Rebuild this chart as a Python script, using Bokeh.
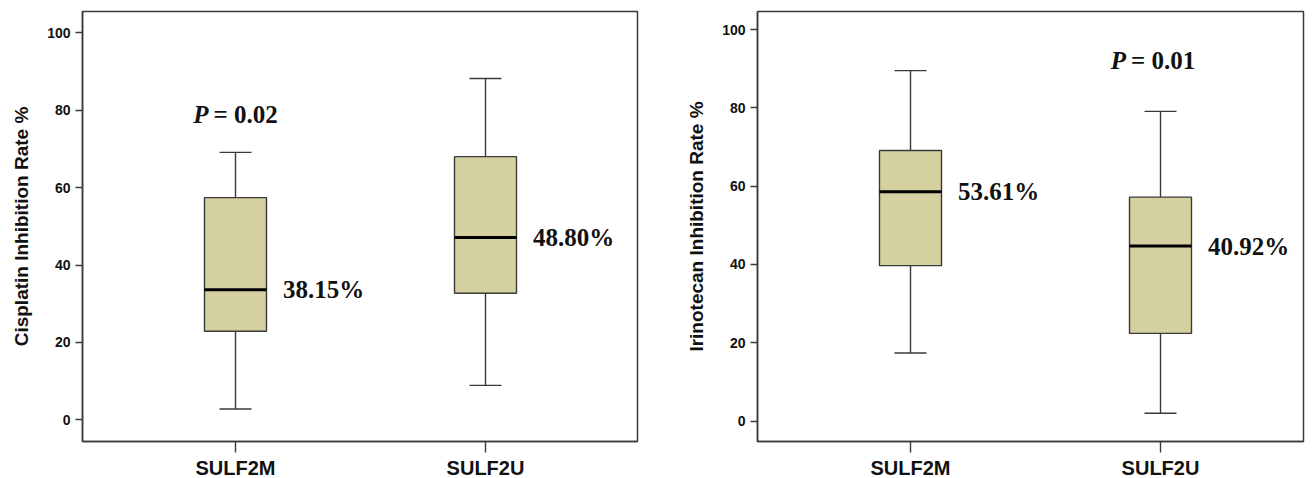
from bokeh.plotting import figure
from bokeh.layouts import row
from bokeh.models import Range1d, FixedTicker
from bokeh.core.properties import value
from bokeh.embed import file_html
from bokeh.resources import INLINE

# ---------------- data ----------------
groups = ["SULF2M", "SULF2U"]
group_pos = [1, 2]
y_ticks = [0, 20, 40, 60, 80, 100]

cis_low = [2.8, 8.9]
cis_q1 = [22.9, 32.7]
cis_median = [33.6, 47.1]
cis_q3 = [57.4, 68.0]
cis_high = [69.1, 88.2]
cis_labels = ["38.15%", "48.80%"]
cis_p_value = "0.02"
cis_p_at = (1.0, 79.0)

iri_low = [17.4, 2.0]
iri_q1 = [39.7, 22.4]
iri_median = [58.6, 44.7]
iri_q3 = [69.1, 57.2]
iri_high = [89.5, 79.1]
iri_labels = ["53.61%", "40.92%"]
iri_p_value = "0.01"
iri_p_at = (1.97, 92.0)

# ---------------- style ----------------
BOX_FILL = "#d5d0a0"
EDGE = "#3a3a3a"
SANS = "Liberation Sans"
SERIF = "Liberation Serif"
BOX_W = 0.248
CAP_W = 0.128
FIG_H = 478


def panel(ylabel, low, q1, med, q3, high, labels, p_value, p_at,
          width, bl, br, bt, fh, x_end, y_start, y_end):
    p = figure(width=width, height=FIG_H, output_backend="svg", toolbar_location=None,
               x_range=Range1d(0.388, x_end), y_range=Range1d(y_start, y_end),
               min_border_left=bl, min_border_right=br, min_border_top=bt,
               min_border_bottom=FIG_H - bt - fh)
    p.frame_height = fh
    p.frame_width = width - bl - br
    p.grid.visible = False
    p.outline_line_color = EDGE
    p.outline_line_width = 1.5
    p.outline_line_alpha = 1.0

    x = group_pos
    # whiskers
    p.segment(x0=x, y0=q3, x1=x, y1=high, line_color=EDGE, line_width=1.4)
    p.segment(x0=x, y0=low, x1=x, y1=q1, line_color=EDGE, line_width=1.4)
    p.segment(x0=[v - CAP_W / 2 for v in x], y0=high, x1=[v + CAP_W / 2 for v in x], y1=high,
              line_color=EDGE, line_width=1.4)
    p.segment(x0=[v - CAP_W / 2 for v in x], y0=low, x1=[v + CAP_W / 2 for v in x], y1=low,
              line_color=EDGE, line_width=1.4)
    # boxes
    p.vbar(x=x, width=BOX_W, bottom=q1, top=q3, fill_color=BOX_FILL,
           line_color=EDGE, line_width=1.4)
    # medians
    p.segment(x0=[v - BOX_W / 2 for v in x], y0=med, x1=[v + BOX_W / 2 for v in x], y1=med,
              line_color="#000000", line_width=3)
    # labels next to medians
    p.text(x=[v + 0.19 for v in x], y=med, text=labels,
           text_font=value(SERIF), text_font_style="bold", text_font_size="25px",
           text_align="left", text_baseline="middle", text_color="#111111")
    # P value
    p.text(x=[p_at[0]], y=[p_at[1]], text=["P"], x_offset=-27,
           text_font=value(SERIF), text_font_style="bold italic", text_font_size="25px",
           text_align="right", text_baseline="middle", text_color="#111111")
    p.text(x=[p_at[0]], y=[p_at[1]], text=["= " + p_value], x_offset=-22,
           text_font=value(SERIF), text_font_style="bold", text_font_size="25px",
           text_align="left", text_baseline="middle", text_color="#111111")

    # axes
    p.xaxis.ticker = FixedTicker(ticks=group_pos)
    p.xaxis.major_label_overrides = {g: n for g, n in zip(group_pos, groups)}
    p.xaxis.minor_tick_line_color = None
    p.xaxis.major_tick_out = 11
    p.xaxis.major_tick_in = 0
    p.xaxis.major_label_standoff = 4
    p.xaxis.major_label_text_font = SANS
    p.xaxis.major_label_text_font_style = "bold"
    p.xaxis.major_label_text_font_size = "20px"
    p.xaxis.major_label_text_color = "#111111"

    p.yaxis.ticker = FixedTicker(ticks=y_ticks)
    p.yaxis.minor_tick_line_color = None
    p.yaxis.major_tick_out = 7
    p.yaxis.major_tick_in = 0
    p.yaxis.major_label_standoff = 5
    p.yaxis.major_label_text_font = SANS
    p.yaxis.major_label_text_font_style = "bold"
    p.yaxis.major_label_text_font_size = "14px"
    p.yaxis.major_label_text_color = "#111111"
    p.yaxis.axis_label = ylabel
    p.yaxis.axis_label_text_font = SANS
    p.yaxis.axis_label_text_font_style = "bold"
    p.yaxis.axis_label_text_font_size = "19px"
    p.yaxis.axis_label_text_color = "#111111"
    p.yaxis.axis_label_standoff = 12

    for ax in (p.xaxis, p.yaxis):
        ax.axis_line_color = EDGE
        ax.axis_line_width = 1.5
        ax.major_tick_line_color = EDGE
        ax.major_tick_line_width = 1.4
    return p


left = panel("Cisplatin Inhibition Rate %", cis_low, cis_q1, cis_median, cis_q3, cis_high,
             cis_labels, cis_p_value, cis_p_at,
             width=680, bl=82, br=43, bt=11, fh=430, x_end=2.608, y_start=-5.6, y_end=105.5)
right = panel("Irinotecan Inhibition Rate %", iri_low, iri_q1, iri_median, iri_q3, iri_high,
              iri_labels, iri_p_value, iri_p_at,
              width=633, bl=77, br=10, bt=11, fh=430, x_end=2.572, y_start=-5.2, y_end=104.6)

layout = row(left, right)
open("out.html", "w").write(file_html(layout, INLINE))
